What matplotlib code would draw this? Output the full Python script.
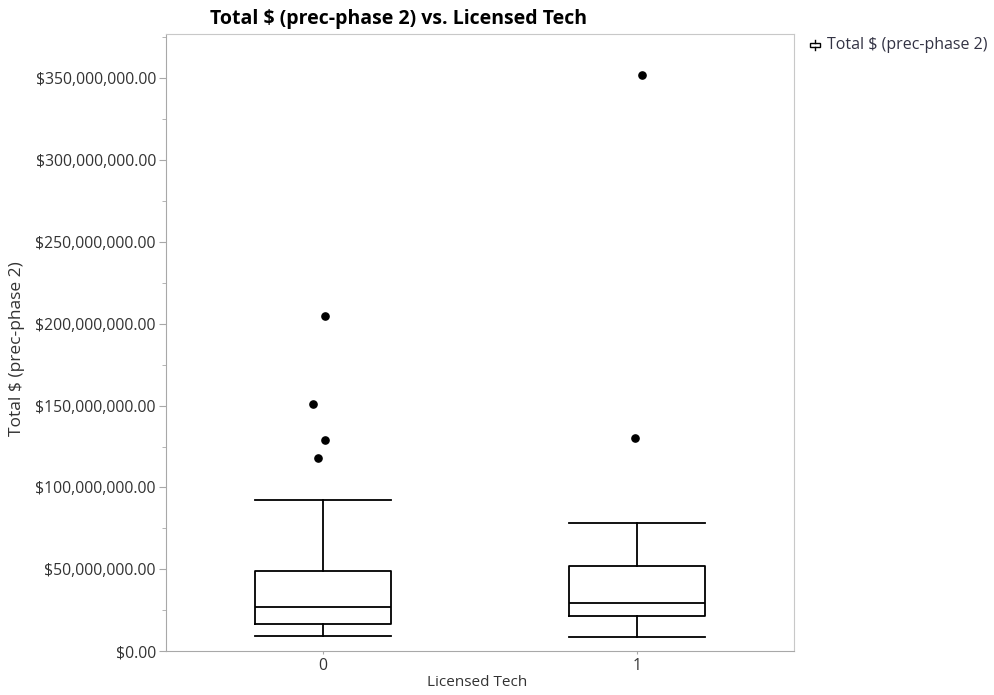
import matplotlib
matplotlib.use("Agg")
import matplotlib.pyplot as plt
from matplotlib.ticker import FuncFormatter, MultipleLocator
from matplotlib.patches import Rectangle
from matplotlib.lines import Line2D

plt.rcParams['font.family'] = ['Open Sans', 'DejaVu Sans']

# Box stats (dollars, millions)
groups = ["0", "1"]
whisker_low = [9.5, 8.7]
q1 = [17.0, 21.5]
median = [27.1, 29.6]
q3 = [49.1, 52.3]
whisker_high = [92.4, 78.2]
outliers = [[204.8, 150.9, 129.0, 117.8], [351.5, 130.2]]
# small horizontal jitter of the outlier dots, as seen
outlier_jitter = [[0.006, -0.032, 0.006, -0.016], [0.017, -0.008]]

M = 1e6

fig = plt.figure(figsize=(9.95, 6.95), dpi=100)
ax = fig.add_axes([0.1665, 0.0626, 0.6318, 0.8884])

stats = []
for i in range(len(groups)):
    stats.append(dict(whislo=whisker_low[i] * M, q1=q1[i] * M, med=median[i] * M,
                      q3=q3[i] * M, whishi=whisker_high[i] * M, fliers=[]))

lw = 1.3
ax.bxp(stats, positions=range(len(groups)), widths=0.432, showfliers=False,
       boxprops=dict(color="black", linewidth=lw),
       medianprops=dict(color="black", linewidth=lw),
       whiskerprops=dict(color="black", linewidth=lw),
       capprops=dict(color="black", linewidth=lw), capwidths=0.432)

for i, pts in enumerate(outliers):
    xs = [i + j for j in outlier_jitter[i]]
    ax.plot(xs, [p * M for p in pts], "o", color="black", markersize=5.2, linestyle="none")

ax.set_xlim(-0.5, 1.5)
ax.set_ylim(0, 376.5 * M)
ax.set_xticks(range(len(groups)))
ax.set_xticklabels(groups)
ax.yaxis.set_major_locator(MultipleLocator(50 * M))
ax.yaxis.set_minor_locator(MultipleLocator(25 * M))
ax.yaxis.set_major_formatter(FuncFormatter(lambda v, p: f"${v:,.2f}"))

for side in ["left", "bottom"]:
    ax.spines[side].set_color("#a8a8a8")
for side in ["top", "right"]:
    ax.spines[side].set_color("#c8c8c8")
ax.tick_params(axis="both", colors="#a8a8a8", labelcolor="#333333", labelsize=11.3)
ax.tick_params(axis="y", which="major", length=5, pad=2)
ax.tick_params(axis="y", which="minor", colors="#a8a8a8", length=3)
ax.tick_params(axis="x", length=2, pad=3)

ax.set_xlabel("Licensed Tech", fontsize=11, color="#333333")
ax.xaxis.set_label_coords(0.495, -0.038)
ax.set_ylabel("Total $ (prec-phase 2)", fontsize=12.5, color="#333333")
ax.yaxis.set_label_coords(-0.224, 0.49)

fig.text(210 / 995, 1 - 19 / 695, "Total $ (prec-phase 2) vs. Licensed Tech",
         fontsize=14, fontweight="bold", ha="left", va="center", color="black")

# legend icon: little box with stems
fx = lambda px: px / 995
fy = lambda py: 1 - py / 695
fig.add_artist(Rectangle((fx(810), fy(47)), fx(820) - fx(810), fy(42.5) - fy(47),
                         fill=False, edgecolor="black", linewidth=1.0, transform=fig.transFigure))
fig.add_artist(Line2D([fx(815), fx(815)], [fy(40), fy(42.5)], color="black", linewidth=1.0,
                      transform=fig.transFigure))
fig.add_artist(Line2D([fx(815), fx(815)], [fy(47), fy(49.5)], color="black", linewidth=1.0,
                      transform=fig.transFigure))
fig.text(fx(827), fy(45), "Total $ (prec-phase 2)", fontsize=11.5, color="#333344",
         ha="left", va="center")

fig.savefig("out.png", dpi=100)
